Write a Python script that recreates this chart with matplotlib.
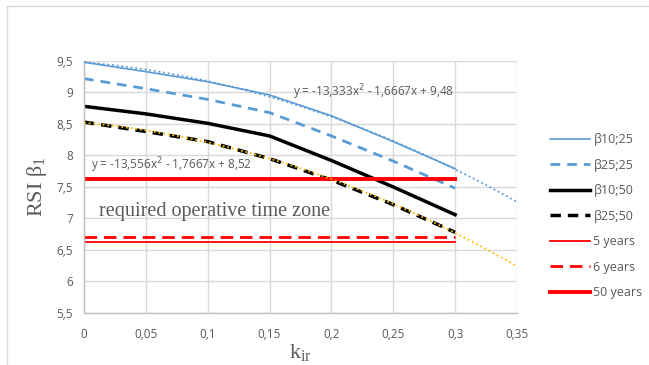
import numpy as np
import matplotlib.pyplot as plt
from matplotlib.lines import Line2D

# данные
k_ir = [0, 0.05, 0.1, 0.15, 0.2, 0.25, 0.3]
b10_25 = [9.48, 9.33, 9.17, 8.96, 8.63, 8.22, 7.79]
b25_25 = [9.22, 9.06, 8.89, 8.68, 8.31, 7.91, 7.48]
b10_50 = [8.78, 8.66, 8.51, 8.31, 7.92, 7.50, 7.06]
b25_50 = [8.53, 8.38, 8.22, 7.95, 7.61, 7.22, 6.78]

years_x = [0, 0.3]
years_5 = [6.63, 6.63]
years_6 = [6.70, 6.70]
years_50 = [7.63, 7.63]

# полиномиальные тренды (коэффициенты из подписи)
trend_25 = [-13.333, -1.6667, 9.48]
trend_50 = [-13.556, -1.7667, 8.52]
trend_x = np.linspace(0, 0.35, 50)

xticks = [0, 0.05, 0.1, 0.15, 0.2, 0.25, 0.3, 0.35]
yticks = [5.5, 6, 6.5, 7, 7.5, 8, 8.5, 9, 9.5]

blue = '#5b9bd5'
red = '#ff0000'
gold = '#ffc000'
grid_c = '#d9d9d9'
txt_c = '#595959'
tick_font = 'Open Sans'
serif_font = 'Liberation Serif'

fig = plt.figure(figsize=(6.49, 3.65), dpi=100)
ax = fig.add_axes([0.1294, 0.1425, 0.6672, 0.6905])

# рамка вокруг диаграммы (только сверху и слева)
fig.add_artist(Line2D([0.011, 0.011], [0.0, 0.984], color='#d9d9d9', lw=1.0))
fig.add_artist(Line2D([0.011, 1.0], [0.984, 0.984], color='#d9d9d9', lw=1.0))

ax.plot(trend_x, np.polyval(trend_25, trend_x), color=blue, lw=1.3, ls=(0, (1, 1.6)), zorder=3)
ax.plot(k_ir, b10_25, color=blue, lw=1.2, label='β10;25', zorder=2)
ax.plot(k_ir, b25_25, color=blue, lw=2.0, ls=(0, (3.5, 2.5)), label='β25;25', zorder=2)
ax.plot(k_ir, b10_50, color='black', lw=2.5, label='β10;50', zorder=2)
ax.plot(k_ir, b25_50, color='black', lw=2.5, ls=(0, (3, 2)), label='β25;50', zorder=2)
ax.plot(trend_x, np.polyval(trend_50, trend_x), color=gold, lw=1.3, ls=(0, (1, 1.6)), zorder=3)

ax.plot(years_x, years_5, color=red, lw=1.3, label='5 years', zorder=2)
ax.plot(years_x, years_6, color=red, lw=2.0, ls=(0, (4.5, 2.5)), label='6 years', zorder=2)
ax.plot(years_x, years_50, color=red, lw=2.8, label='50 years', zorder=2)

ax.set_xlim(0, 0.35)
ax.set_ylim(5.5, 9.5)
ax.set_xticks(xticks)
ax.set_yticks(yticks)
ax.set_xticklabels([('%g' % v).replace('.', ',') for v in xticks])
ax.set_yticklabels([('%g' % v).replace('.', ',') for v in yticks])
ax.tick_params(length=0, labelsize=8.5, labelcolor=txt_c)
ax.tick_params(axis='x', pad=11)
ax.tick_params(axis='y', pad=8)
for lab in ax.get_xticklabels() + ax.get_yticklabels():
    lab.set_family(tick_font)

ax.grid(True, color=grid_c, lw=1.0)
ax.set_axisbelow(True)
for side in ['top', 'right']:
    ax.spines[side].set_visible(False)
for side in ['left', 'bottom']:
    ax.spines[side].set_color('#bfbfbf')
    ax.spines[side].set_linewidth(1.0)

# подписи
ax.text(0.169, 9.0, 'y = -13,333x$^2$ - 1,6667x + 9,48', fontsize=8.5, color=txt_c,
        family=tick_font, va='center', ha='left')
ax.text(0.006, 7.85, 'y = -13,556x$^2$ - 1,7667x + 8,52', fontsize=8.5, color=txt_c,
        family=tick_font, va='center', ha='left')
ax.text(0.012, 7.11, 'required operative time zone', fontsize=14.5, color=txt_c,
        family=serif_font, va='center', ha='left')

ax.set_xlabel('k$_{\\mathregular{ir}}$', fontsize=16, color=txt_c, family=serif_font, labelpad=1)
ax.set_ylabel('RSI β$_{\\mathregular{1}}$', fontsize=16, color=txt_c, family=serif_font, labelpad=5)

leg = fig.legend(loc='upper left', bbox_to_anchor=(0.848, 0.635), frameon=False,
                 fontsize=9, handlelength=3.2, handletextpad=0.25, labelspacing=1.0,
                 borderpad=0, borderaxespad=0)
for t in leg.get_texts():
    t.set_color(txt_c)
    t.set_family(tick_font)

fig.savefig('out.png', dpi=100)
